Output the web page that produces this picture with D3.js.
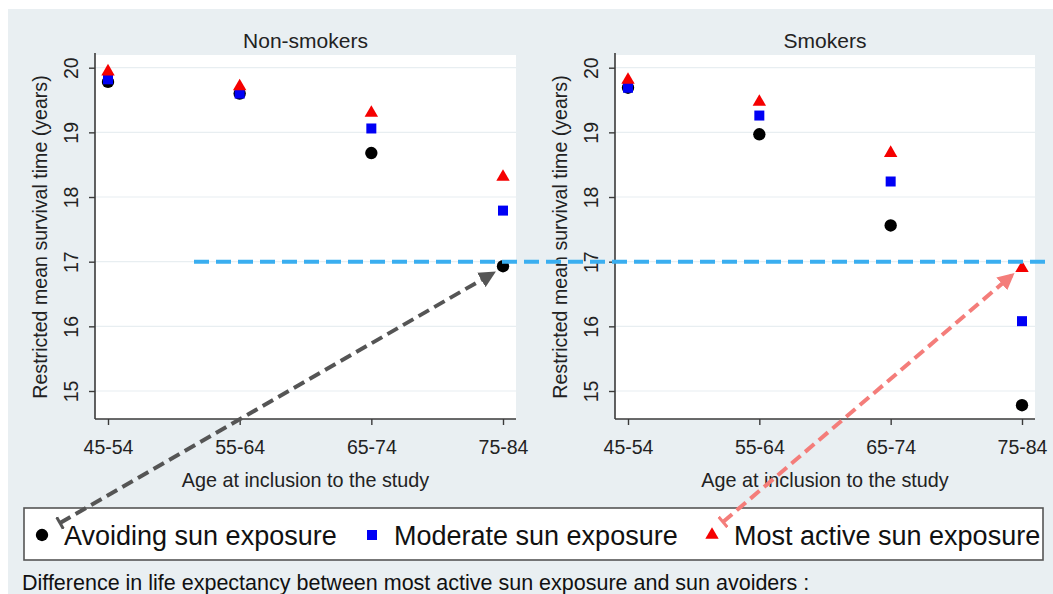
<!DOCTYPE html>
<html>
<head>
<meta charset="utf-8">
<script src="https://cdn.jsdelivr.net/npm/d3@7"></script>
<style>
  body { margin: 0; background: #fff; }
  svg { display: block; font-family: "Liberation Sans", Arial, Helvetica, sans-serif; }
</style>
</head>
<body>
<svg id="chart" width="1053" height="594"></svg>
<script>
// age groups on the x axis
const ageGroups = ['45-54', '55-64', '65-74', '75-84']
const yTicks = [15, 16, 17, 18, 19, 20]
const referenceLevel = 17

// restricted mean survival time (years)
const nonSmokersAvoiding = [19.78, 19.6, 18.68, 16.93]
const nonSmokersModerate = [19.82, 19.6, 19.06, 17.79]
const nonSmokersActive = [19.94, 19.71, 19.3, 18.31]

const smokersAvoiding = [19.69, 18.97, 17.56, 14.78]
const smokersModerate = [19.69, 19.26, 18.24, 16.08]
const smokersActive = [19.81, 19.47, 18.68, 16.9]

const seriesNames = ['Avoiding sun exposure', 'Moderate sun exposure', 'Most active sun exposure']

const svg = d3.select('#chart')

// outer background panel (Stata style)
svg.append('rect').attr('x', 8).attr('y', 9).attr('width', 1045).attr('height', 585).attr('fill', '#e9eff2')

const y = d3.scaleLinear().domain([15, 20]).range([391, 67.7])
const plotTop = 55
const plotBottom = 419
const textColor = '#222'

const panels = [
  { title: 'Non-smokers', left: 95, right: 516, series: [nonSmokersAvoiding, nonSmokersModerate, nonSmokersActive] },
  { title: 'Smokers', left: 615, right: 1035, series: [smokersAvoiding, smokersModerate, smokersActive] },
]

const symbols = [
  { type: d3.symbolCircle, size: 120, color: '#000' },
  { type: d3.symbolSquare, size: 100, color: '#0000f5' },
  { type: d3.symbolTriangle, size: 78, color: '#f50000' },
]

panels.forEach(p => {
  p.x = d3.scalePoint().domain(ageGroups).range([p.left + 13, p.right - 13])
  const g = svg.append('g')

  // plot region
  g.append('rect')
    .attr('x', p.left).attr('y', plotTop)
    .attr('width', p.right - p.left).attr('height', plotBottom - plotTop)
    .attr('fill', '#fff')

  // faint grid lines
  g.selectAll('.grid')
    .data(yTicks)
    .enter()
    .append('line')
    .attr('x1', p.left).attr('x2', p.right)
    .attr('y1', d => y(d)).attr('y2', d => y(d))
    .attr('stroke', '#e8eef1').attr('stroke-width', 1.2)

  // y axis
  const yAxis = g.append('g')
    .attr('transform', `translate(${p.left},0)`)
    .call(d3.axisLeft(y).tickValues(yTicks).tickSize(6).tickFormat(d3.format('d')))
  yAxis.select('.domain').remove()
  yAxis.append('line')
    .attr('x1', 0).attr('x2', 0).attr('y1', plotTop - 2).attr('y2', plotBottom)
    .attr('stroke', '#3a3a3a').attr('stroke-width', 1.6)
  yAxis.selectAll('.tick line').attr('stroke', '#3a3a3a').attr('stroke-width', 1.4)
  yAxis.selectAll('.tick text')
    .attr('x', 0).attr('dy', 0)
    .attr('transform', 'translate(-22,0) rotate(-90)')
    .attr('text-anchor', 'middle')
    .attr('dominant-baseline', 'middle')
    .style('font-size', '19.5px')
    .style('fill', textColor)

  // x axis
  const xAxis = g.append('g')
    .attr('transform', `translate(0,${plotBottom})`)
    .call(d3.axisBottom(p.x).tickSize(6).tickPadding(15))
  xAxis.select('.domain').remove()
  xAxis.append('line')
    .attr('x1', p.left).attr('x2', p.right).attr('y1', 0).attr('y2', 0)
    .attr('stroke', '#3a3a3a').attr('stroke-width', 1.6)
  xAxis.selectAll('.tick line').attr('stroke', '#3a3a3a').attr('stroke-width', 1.4)
  xAxis.selectAll('.tick text').style('font-size', '19.5px').style('fill', textColor)

  const cx = (p.left + p.right) / 2

  g.append('text')
    .attr('x', cx).attr('y', 48)
    .attr('text-anchor', 'middle')
    .style('font-size', '21px').style('fill', textColor)
    .text(p.title)

  g.append('text')
    .attr('x', cx).attr('y', 487)
    .attr('text-anchor', 'middle')
    .style('font-size', '19.8px').style('fill', textColor)
    .text('Age at inclusion to the study')

  g.append('text')
    .attr('transform', `translate(${p.left - 48},${(plotTop + plotBottom) / 2}) rotate(-90)`)
    .attr('text-anchor', 'middle')
    .style('font-size', '19.6px').style('fill', textColor)
    .text('Restricted mean survival time (years)')

  // markers: avoiding, moderate, most active
  p.series.forEach((values, si) => {
    const sym = symbols[si]
    g.selectAll(null)
      .data(values)
      .enter()
      .append('path')
      .attr('d', d3.symbol().type(sym.type).size(sym.size))
      .attr('transform', (d, i) => `translate(${p.x(ageGroups[i])},${y(d)})`)
      .attr('fill', sym.color)
  })
})

// dashed reference line at 17 years
svg.append('line')
  .attr('x1', 194).attr('x2', 1045)
  .attr('y1', y(referenceLevel)).attr('y2', y(referenceLevel))
  .attr('stroke', '#3aaef0').attr('stroke-width', 4)
  .attr('stroke-dasharray', '15,7')

// legend
const legend = svg.append('g')
legend.append('rect')
  .attr('x', 24).attr('y', 508).attr('width', 1019).attr('height', 52)
  .attr('fill', '#fff').attr('stroke', '#555').attr('stroke-width', 1.6)

const legendX = [42, 372, 712]
const legendY = 535
legendX.forEach((lx, i) => {
  legend.append('path')
    .attr('d', d3.symbol().type(symbols[i].type).size(symbols[i].size))
    .attr('transform', `translate(${lx},${legendY})`)
    .attr('fill', symbols[i].color)
  legend.append('text')
    .attr('x', lx + 22).attr('y', legendY + 10)
    .style('font-size', '27px').style('fill', '#111')
    .text(seriesNames[i])
})

// arrows from legend entries to the oldest age group points
const defs = svg.append('defs')
const arrows = [
  { color: '#555', from: [legendX[0] + 18, legendY - 12], panel: panels[0], value: nonSmokersAvoiding[3] },
  { color: '#f47d7a', from: [legendX[2] + 11, legendY - 13], panel: panels[1], value: smokersActive[3] },
]
arrows.forEach((a, i) => {
  defs.append('marker')
    .attr('id', 'head' + i)
    .attr('viewBox', '0 0 10 10').attr('refX', 8).attr('refY', 5)
    .attr('markerWidth', 4.2).attr('markerHeight', 4.2)
    .attr('orient', 'auto')
    .append('path').attr('d', 'M0,0 L10,5 L0,10 z').attr('fill', a.color)
  defs.append('marker')
    .attr('id', 'tail' + i)
    .attr('viewBox', '0 0 10 10').attr('refX', 5).attr('refY', 5)
    .attr('markerWidth', 3.4).attr('markerHeight', 3.4)
    .attr('orient', 'auto')
    .append('path').attr('d', 'M5,0 L5,10').attr('stroke', a.color).attr('stroke-width', 2.2)

  const tx = a.panel.x(ageGroups[3]) - 10
  const ty = y(a.value) + 7
  svg.append('line')
    .attr('x1', a.from[0]).attr('y1', a.from[1])
    .attr('x2', tx).attr('y2', ty)
    .attr('stroke', a.color).attr('stroke-width', 4)
    .attr('stroke-dasharray', '12,6')
    .attr('marker-end', `url(#head${i})`)
    .attr('marker-start', `url(#tail${i})`)
})

svg.append('text')
  .attr('x', 22).attr('y', 590)
  .style('font-size', '21.5px').style('fill', '#111')
  .text('Difference in life expectancy between most active sun exposure and sun avoiders :')
</script>
</body>
</html>
